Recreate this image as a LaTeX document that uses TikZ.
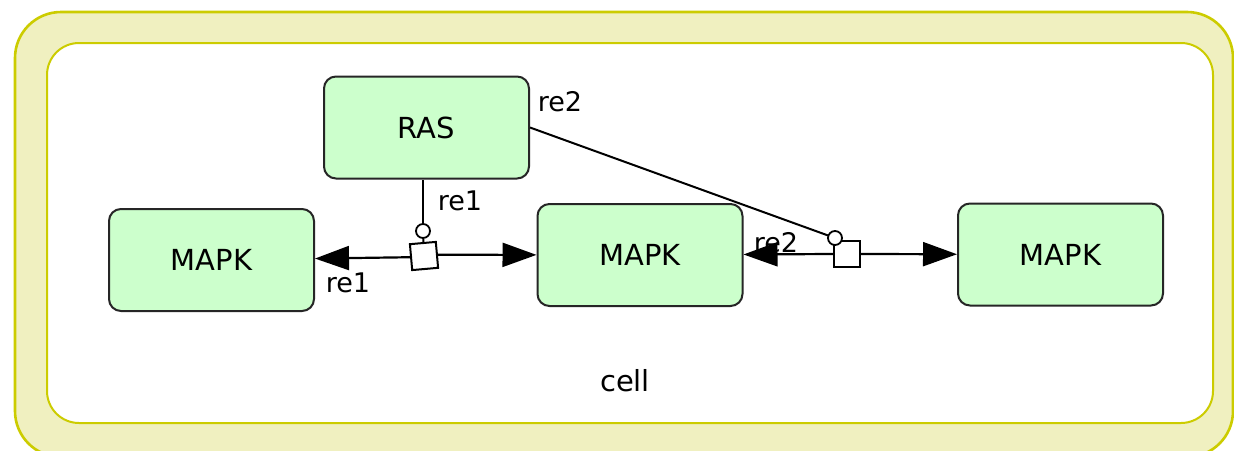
\documentclass[tikz,border=0pt]{standalone}
\usepackage{fontspec}
\setmainfont{DejaVu Sans}
\usetikzlibrary{arrows.meta}
\definecolor{bandfill}{HTML}{F0F0C0}
\definecolor{bandline}{HTML}{CCCC00}
\definecolor{species}{HTML}{CCFFCC}
\tikzset{
  compartment/.style={draw=bandline, line width=2.6pt, fill=bandfill, rounded corners=46pt},
  compinner/.style={draw=bandline, line width=2pt, fill=white, rounded corners=32pt},
  speciesbox/.style={draw=black!85, line width=2pt, fill=species, rounded corners=12pt,
    minimum width=205pt, minimum height=102pt, inner sep=0pt,
    font=\fontsize{29}{32}\selectfont},
  procbox/.style={draw=black, line width=2pt, fill=white, minimum size=26pt, inner sep=0pt},
  modcircle/.style={draw=black, line width=1.8pt, fill=white, circle, minimum size=14pt, inner sep=0pt},
  reactlabel/.style={font=\fontsize{27}{30}\selectfont, inner sep=0pt},
  prodarrow/.style={line width=2.2pt, -{Triangle[length=34pt, width=24pt]}},
  modline/.style={line width=2pt},
}
\begin{document}
\begin{tikzpicture}[x=1pt, y=-1pt]
\useasboundingbox (0,0) rectangle (1234,450);
% compartment "cell"
\begin{scope}
\clip (0,0) rectangle (1234,450);
\draw[compartment] (15,12) rectangle (1233,457);
\draw[compinner] (47,43) rectangle (1213,423);
\end{scope}
\node[font=\fontsize{29}{32}\selectfont] (cell) at (625,381) {cell};

% species
\node[speciesbox] (ras) at (426.5,127.5) {RAS};
\node[speciesbox] (m1) at (211.5,260) {MAPK};
\node[speciesbox] (m2) at (640,255) {MAPK};
\node[speciesbox] (m3) at (1060.5,254.5) {MAPK};

% reaction re1
\node[procbox, rotate=5] (p1) at (424,256) {};
\node[modcircle] (c1) at (423,231) {};
\draw[prodarrow] (p1.west) -- (m1);
\draw[prodarrow] (p1.east) -- (m2);
\draw[modline] (c1.north) -- (c1.north |- ras.south);
\draw[modline] (c1) -- (p1);

% reaction re2
\node[procbox] (p2) at (847,254) {};
\draw[prodarrow] (p2.west) -- (m2);
\draw[prodarrow] (p2.east) -- (m3);
\draw[modline] (ras.east) -- (835,238) coordinate (c2pos);
\node[modcircle] (c2) at (c2pos) {};

% reaction labels
\node[reactlabel] (l1a) at (460,201) {re1};
\node[reactlabel] (l1b) at (348,283) {re1};
\node[reactlabel] (l2a) at (560,102) {re2};
\node[reactlabel] (l2b) at (776,243) {re2};
\end{tikzpicture}
\end{document}
